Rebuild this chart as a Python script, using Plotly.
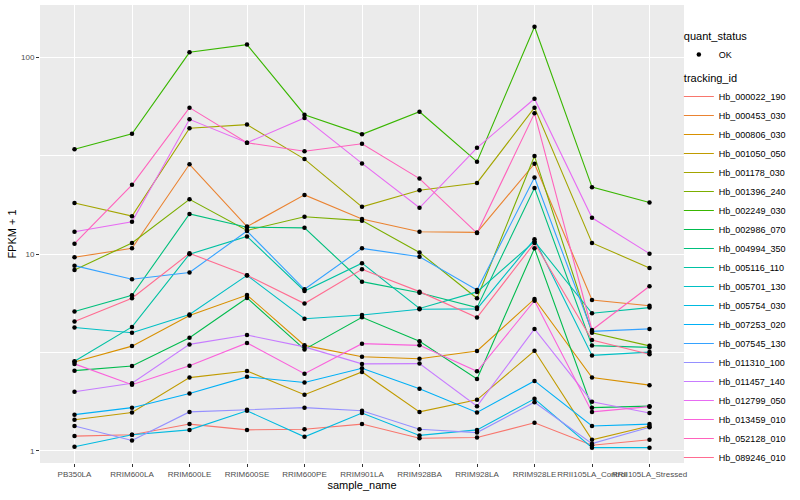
import plotly.graph_objects as go

samples = ["PB350LA", "RRIM600LA", "RRIM600LE", "RRIM600SE", "RRIM600PE",
           "RRIM901LA", "RRIM928BA", "RRIM928LA", "RRIM928LE",
           "RRII105LA_Control", "RRII105LA_Stressed"]

tracking_ids = ["Hb_000022_190", "Hb_000453_030", "Hb_000806_030", "Hb_001050_050",
                "Hb_001178_030", "Hb_001396_240", "Hb_002249_030", "Hb_002986_070",
                "Hb_004994_350", "Hb_005116_110", "Hb_005701_130", "Hb_005754_030",
                "Hb_007253_020", "Hb_007545_130", "Hb_011310_100", "Hb_011457_140",
                "Hb_012799_050", "Hb_013459_010", "Hb_052128_010", "Hb_089246_010"]

colors = ["#F8766D", "#EA8331", "#D89000", "#C09B00", "#A3A500", "#7CAE00", "#39B600",
          "#00BB4E", "#00BF7D", "#00C1A3", "#00BFC4", "#00BAE0", "#00B0F6", "#35A2FF",
          "#9590FF", "#C77CFF", "#E76BF3", "#FA62DB", "#FF62BC", "#FF6C91"]

# FPKM + 1 values, one list per tracking_id (order follows `samples`)
hb_000022_190 = [1.19, 1.21, 1.37, 1.28, 1.29, 1.37, 1.16, 1.17, 1.39, 1.07, 1.14]
hb_000453_030 = [9.64, 10.7, 28.6, 13.8, 20.0, 15.1, 13.0, 12.9, 28.8, 5.85, 5.47]
hb_000806_030 = [2.83, 3.41, 4.88, 6.20, 3.44, 3.01, 2.94, 3.22, 5.92, 2.36, 2.16]
hb_001050_050 = [1.44, 1.57, 2.36, 2.55, 1.93, 2.52, 1.58, 1.82, 3.23, 1.14, 1.34]
hb_001178_030 = [18.2, 15.6, 43.6, 45.5, 30.4, 17.4, 21.1, 23.0, 55.5, 11.4, 8.51]
hb_001396_240 = [8.31, 11.4, 19.0, 13.2, 15.5, 14.8, 10.2, 5.97, 31.5, 3.99, 3.42]
hb_002249_030 = [34.1, 40.9, 106.0, 116.0, 51.1, 40.6, 52.9, 29.5, 143.0, 21.9, 18.3]
hb_002986_070 = [2.56, 2.70, 3.76, 5.99, 3.28, 4.78, 3.61, 2.32, 10.7, 1.66, 1.69]
hb_004994_350 = [5.11, 6.18, 16.0, 13.7, 13.6, 7.25, 6.37, 5.35, 21.7, 3.43, 3.36]
hb_005116_110 = [2.86, 4.27, 10.0, 12.3, 6.50, 9.00, 5.30, 6.43, 11.6, 5.01, 5.35]
hb_005701_130 = [4.24, 3.99, 4.94, 7.80, 4.70, 4.91, 5.25, 5.27, 11.9, 3.06, 3.18]
hb_005754_030 = [1.05, 1.21, 1.28, 1.60, 1.18, 1.56, 1.20, 1.28, 1.84, 1.04, 1.04]
hb_007253_020 = [1.53, 1.66, 1.96, 2.38, 2.23, 2.63, 2.07, 1.57, 2.27, 1.34, 1.37]
hb_007545_130 = [8.74, 7.45, 8.07, 13.1, 6.63, 10.7, 9.70, 6.58, 24.5, 4.05, 4.17]
hb_011310_100 = [1.34, 1.13, 1.58, 1.62, 1.66, 1.60, 1.29, 1.24, 1.77, 1.09, 1.32]
hb_011457_140 = [2.00, 2.21, 3.48, 3.88, 3.38, 2.77, 2.78, 1.69, 4.17, 1.78, 1.56]
hb_012799_050 = [13.0, 14.6, 48.4, 36.8, 49.2, 28.9, 17.2, 34.7, 61.6, 15.3, 10.06]
hb_013459_010 = [2.77, 2.17, 2.71, 3.54, 2.47, 3.51, 3.44, 2.54, 5.80, 1.58, 1.68]
hb_052128_010 = [11.3, 22.5, 55.5, 36.8, 33.3, 36.4, 24.2, 12.8, 51.9, 4.12, 6.87]
hb_089246_010 = [4.55, 5.97, 10.1, 7.81, 5.61, 8.38, 6.45, 4.76, 11.4, 3.66, 3.10]

values = [hb_000022_190, hb_000453_030, hb_000806_030, hb_001050_050, hb_001178_030,
          hb_001396_240, hb_002249_030, hb_002986_070, hb_004994_350, hb_005116_110,
          hb_005701_130, hb_005754_030, hb_007253_020, hb_007545_130, hb_011310_100,
          hb_011457_140, hb_012799_050, hb_013459_010, hb_052128_010, hb_089246_010]

FONT = "Liberation Sans, Arial, Helvetica, sans-serif"

fig = go.Figure()

for i, (tid, col, vals) in enumerate(zip(tracking_ids, colors, values)):
    fig.add_trace(go.Scatter(
        x=samples, y=vals, mode="lines", name=tid,
        line=dict(color=col, width=1.1),
        legendgroup="tracking_id", legendgrouptitle_text="tracking_id",
        legendrank=10 + i, hoverinfo="skip"))

all_x = [s for _ in values for s in samples]
all_y = [v for vals in values for v in vals]
fig.add_trace(go.Scatter(
    x=all_x, y=all_y, mode="markers", name="OK",
    marker=dict(color="black", size=4.5),
    legendgroup="quant_status", legendgrouptitle_text="quant_status",
    legendrank=1))

fig.update_layout(
    width=800, height=500,
    margin=dict(l=40, r=116, t=5, b=37),
    paper_bgcolor="white", plot_bgcolor="#EBEBEB",
    font=dict(family=FONT, color="black"),
    showlegend=True,
    legend=dict(
        x=0.992, xanchor="left", y=0.965, yanchor="top",
        font=dict(size=9, color="black"),
        grouptitlefont=dict(size=11, color="black"),
        tracegroupgap=4, traceorder="grouped",
        bgcolor="rgba(0,0,0,0)"),
)

fig.update_xaxes(
    type="category", range=[-0.6, 10.6],
    showgrid=True, gridcolor="white", gridwidth=1.1,
    zeroline=False, showline=False,
    ticks="outside", ticklen=3, tickcolor="#333333", tickwidth=1,
    tickangle=0,
    tickfont=dict(size=8, color="#4D4D4D"),
    title=dict(text="sample_name", font=dict(size=11), standoff=2),
    automargin=False)

fig.update_yaxes(
    type="log", range=[-0.061, 2.2657],
    tickvals=[1, 10, 100], ticktext=["1", "10", "100"],
    showgrid=True, gridcolor="white", gridwidth=1.1,
    minor=dict(tickvals=[3.1623, 31.623], showgrid=True, gridcolor="white",
               gridwidth=0.5, ticks=""),
    zeroline=False, showline=False,
    ticks="outside", ticklen=3, tickcolor="#333333", tickwidth=1,
    tickfont=dict(size=8, color="#4D4D4D"),
    title=dict(text="FPKM + 1", font=dict(size=11), standoff=2),
    automargin=False)

fig.write_html("out.html", config={"displayModeBar": False},
               post_script="document.body.style.margin='0px';")
